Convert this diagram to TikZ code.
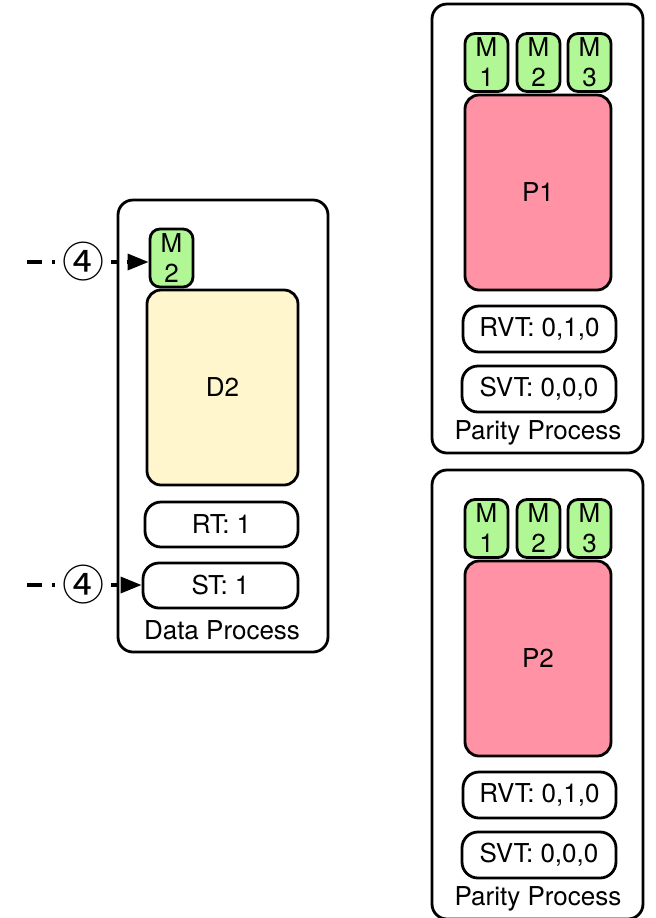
\documentclass[tikz,border=0pt]{standalone}
\usepackage{fontspec}
\setmainfont{TeX Gyre Heros}
\newfontfamily\symfont{Noto Sans CJK JP}
\usetikzlibrary{arrows.meta}

\definecolor{msgcol}{RGB}{178,247,150}
\definecolor{datacol}{RGB}{255,246,205}
\definecolor{paritycol}{RGB}{255,146,165}

\begin{document}
\begin{tikzpicture}[x=0.5pt, y=-0.5pt, line width=1.4pt,
    every node/.style={font=\fontsize{13}{15}\selectfont, inner sep=0pt},
    proc/.style={draw, rounded corners=7.5pt, minimum width=105.5pt, minimum height=224.5pt},
    msg/.style={draw, fill=msgcol, rounded corners=5pt, align=center,
        minimum width=21.5pt, minimum height=29pt},
    core/.style={draw, rounded corners=7pt, minimum width=74pt, minimum height=97.5pt},
    clock/.style={draw, rounded corners=8pt, minimum width=76.5pt, minimum height=22.5pt},
    flow/.style={line width=1.7pt, dash pattern=on 7.5pt off 5pt,
        -{Triangle[length=10.5pt, width=8pt]}},
    step4/.style={fill=white, inner xsep=3.5pt, inner ysep=1pt, font=\symfont\fontsize{21}{21}\selectfont}]
    \useasboundingbox (0, 0) rectangle (656, 918);

    % data process
    \node[proc, minimum width=105pt, minimum height=226pt] (dp) at (223, 426) {};
    \node[msg] (m2) at (171.5, 258) {M\\2};
    \node[core, fill=datacol, minimum width=75.5pt] (d2) at (222.5, 387.5) {D2};
    \node[clock] (rt) at (221.5, 524.5) {RT: 1};
    \node[clock, minimum width=77.5pt] (st) at (220.5, 585.5) {ST: 1};
    \node (dplabel) at (222, 630) {Data Process};

    \coordinate (in1) at (27, 262);
    \coordinate (in2) at (27, 585);
    \draw[flow] (in1) -- node[step4, pos=0.463] {④} (in1 -| m2.west);
    \draw[flow] (in2) -- node[step4, pos=0.49] {④} (in2 -| st.west);

    % parity processes
    \foreach \i/\dy in {1/0, 2/466} {
        \node[proc] (pp\i) at (537.5, 228.5+\dy) {};
        \foreach \j/\x in {1/486.5, 2/538.5, 3/589.5}
            \node[msg] (pm\i\j) at (\x, 62.5+\dy) {M\\\j};
        \node[core, fill=paritycol, minimum width=73pt] (p\i) at (538, 192.5+\dy) {P\i};
        \node[clock, minimum height=23pt] (rvt\i) at (539.5, 329+\dy) {RVT: 0,1,0};
        \node[clock, minimum width=77pt, minimum height=23pt] (svt\i) at (539, 389+\dy) {SVT: 0,0,0};
        \node (pplabel\i) at (538, 433+\dy) {Parity Process};
    }
\end{tikzpicture}
\end{document}
